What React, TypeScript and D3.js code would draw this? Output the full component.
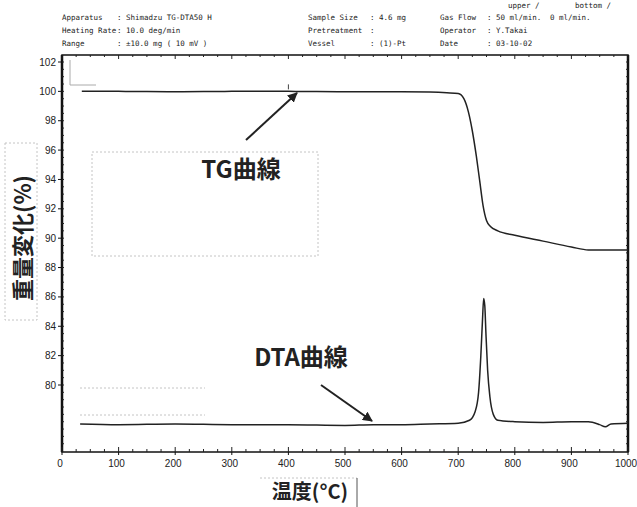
import React from 'react';
import * as d3 from 'd3';

// TG curve (temperature °C, weight %)
const tgTemp = [35, 100, 200, 300, 400, 500, 600, 650, 680, 700, 710, 718, 725, 732, 738, 744, 750, 757, 770, 800, 850, 900, 930, 950, 1000];
const tgWeight = [100.0, 100.0, 99.98, 100.0, 100.0, 99.98, 99.98, 99.95, 99.9, 99.85, 99.5, 98.6, 97.3, 95.6, 93.9, 92.2, 91.2, 90.8, 90.5, 90.2, 89.8, 89.4, 89.2, 89.2, 89.2];

// DTA curve (temperature °C, plotted on the same axis units)
const dtaTemp = [32, 100, 200, 300, 400, 500, 550, 600, 650, 700, 720, 730, 736, 740, 743, 745, 747, 749, 752, 756, 762, 770, 800, 850, 900, 930, 950, 960, 970, 1000];
const dtaValue = [77.35, 77.3, 77.35, 77.3, 77.3, 77.25, 77.3, 77.3, 77.35, 77.4, 77.6, 78.2, 79.5, 82, 84.5, 85.9, 85.4, 83.5, 81, 79.2, 78.0, 77.6, 77.5, 77.45, 77.5, 77.5, 77.3, 77.15, 77.35, 77.4];

const xTicks = [0, 100, 200, 300, 400, 500, 600, 700, 800, 900, 1000];
const yTicks = [102, 100, 98, 96, 94, 92, 90, 88, 86, 84, 82, 80];

const headerRows = [
  ['Apparatus', 'Shimadzu TG-DTA50 H', 'Sample Size', '4.6 mg', 'Gas Flow', '50 ml/min.', '0 ml/min.'],
  ['Heating Rate', '10.0 deg/min', 'Pretreatment', '', 'Operator', 'Y.Takai', ''],
  ['Range', '±10.0 mg ( 10 mV )', 'Vessel', '(1)-Pt', 'Date', '03-10-02', ''],
];

const W = 637;
const H = 507;
const left = 62, right = 628, top = 55, bottom = 452;

export default function App() {
  const x = d3.scaleLinear().domain([0, 1000]).range([left, right]);
  const y = d3.scaleLinear().domain([80, 102]).range([385, 62]);

  const line = d3.line<[number, number]>()
    .x(d => x(d[0]))
    .y(d => y(d[1]))
    .curve(d3.curveMonotoneX);

  const tgPath = line(tgTemp.map((t, i) => [t, tgWeight[i]]));
  const dtaPath = line(dtaTemp.map((t, i) => [t, dtaValue[i]]));

  const minorX = d3.range(0, 1001, 25);
  const minorY = d3.range(76, 102.5, 0.5);

  const mono = 'DejaVu Sans Mono, monospace';
  const cjk = '"Noto Sans CJK JP", "Noto Sans", sans-serif';

  return (
    <svg width={W} height={H} style={{ position: 'absolute', left: 0, top: 0, background: '#fff' }}
      fontFamily="Liberation Sans, Arial, sans-serif">
      <defs>
        <marker id="arr" viewBox="0 0 10 10" refX="9" refY="5" markerWidth="5" markerHeight="5" orient="auto">
          <path d="M0,0 L10,5 L0,10 Z" fill="#222" />
        </marker>
      </defs>

      {/* header block */}
      <g fontFamily={mono} fontSize={7.5} fill="#222">
        <text x={508} y={8}>upper /</text>
        <text x={575} y={8}>bottom /</text>
        {headerRows.map((r, i) => {
          const yy = 20 + i * 13;
          return (
            <g key={i}>
              <text x={62} y={yy}>{r[0]}</text>
              <text x={117} y={yy}>: {r[1]}</text>
              <text x={308} y={yy}>{r[2]}</text>
              <text x={370} y={yy}>: {r[3]}</text>
              <text x={440} y={yy}>{r[4]}</text>
              <text x={487} y={yy}>: {r[5]}</text>
              <text x={550} y={yy}>{r[6]}</text>
            </g>
          );
        })}
      </g>

      {/* frame */}
      <rect x={left} y={top} width={right - left} height={bottom - top} fill="none" stroke="#111" strokeWidth={1.5} />
      <line x1={left} x2={left} y1={top} y2={bottom} stroke="#111" strokeWidth={2.5} />
      <line x1={right} x2={right} y1={top} y2={bottom} stroke="#111" strokeWidth={2.5} />

      {/* minor ticks */}
      {minorX.map(v => (
        <g key={'mx' + v}>
          <line x1={x(v)} x2={x(v)} y1={bottom} y2={bottom - (v % 100 === 0 ? 5 : 3)} stroke="#222" />
          <line x1={x(v)} x2={x(v)} y1={top} y2={top + (v % 100 === 0 ? 4 : 2)} stroke="#222" />
        </g>
      ))}
      {minorY.map(v => (
        <g key={'my' + v}>
          <line x1={left} x2={left + 2} y1={y(v)} y2={y(v)} stroke="#222" />
          <line x1={right} x2={right - 2} y1={y(v)} y2={y(v)} stroke="#222" />
        </g>
      ))}

      {/* y ticks */}
      {yTicks.map(v => (
        <g key={'y' + v}>
          <line x1={left - 4} x2={left} y1={y(v)} y2={y(v)} stroke="#111" />
          <text x={left - 6} y={y(v) + 3.5} textAnchor="end" fontSize={10} fill="#222">{v}</text>
        </g>
      ))}

      {/* x ticks */}
      {xTicks.map(v => (
        <g key={'x' + v}>
          <line x1={x(v)} x2={x(v)} y1={bottom} y2={bottom + 3} stroke="#111" />
          <text x={x(v) - 2} y={bottom + 15} textAnchor="middle" fontSize={10} fill="#222">{v}</text>
        </g>
      ))}

      {/* faint guide boxes */}
      <g stroke="#c4c4c4" fill="none" strokeDasharray="2,2" strokeWidth={1}>
        <rect x={92} y={152} width={226} height={104} />
        <line x1={80} x2={205} y1={388} y2={388} />
        <line x1={80} x2={205} y1={415} y2={415} />
        <rect x={5} y={143} width={32} height={177} />
        <line x1={260} x2={357} y1={478} y2={478} />
      </g>
      <path d="M70,60 V85 H96" fill="none" stroke="#aaa" />
      <line x1={357} x2={357} y1={478} y2={507} stroke="#555" />

      {/* curves */}
      <path d={tgPath ?? ''} fill="none" stroke="#222" strokeWidth={1.5} />
      <path d={dtaPath ?? ''} fill="none" stroke="#222" strokeWidth={1.5} />
      <line x1={x(400)} x2={x(400)} y1={y(100) - 7} y2={y(100) - 2} stroke="#444" />

      {/* annotations */}
      <line x1={246} y1={140} x2={297} y2={93} stroke="#222" strokeWidth={2} markerEnd="url(#arr)" />
      <text x={241} y={178} textAnchor="middle" fontFamily={cjk} fontWeight="bold" fontSize={24} fill="#222">TG曲線</text>
      <line x1={321} y1={385} x2={372} y2={421} stroke="#222" strokeWidth={2} markerEnd="url(#arr)" />
      <text x={301} y={366} textAnchor="middle" fontFamily={cjk} fontWeight="bold" fontSize={24} fill="#222">DTA曲線</text>

      {/* axis titles */}
      <text transform="translate(31,238) rotate(-90)" textAnchor="middle" fontFamily={cjk} fontWeight="bold" fontSize={22} fill="#222">重量変化(%)</text>
      <text x={310} y={499} textAnchor="middle" fontFamily={cjk} fontWeight="bold" fontSize={20} fill="#222">温度(°C)</text>
    </svg>
  );
}
